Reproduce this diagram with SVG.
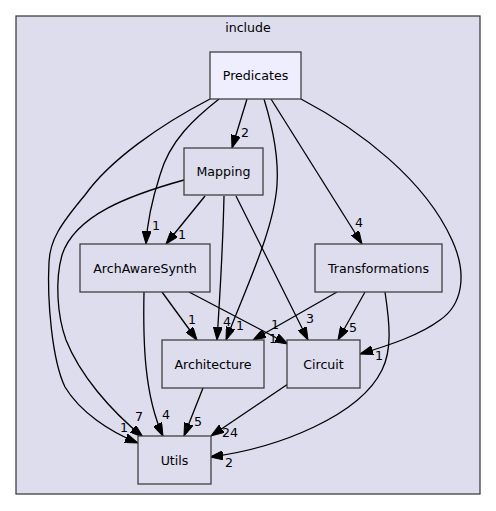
<svg xmlns="http://www.w3.org/2000/svg" width="496" height="511" viewBox="0 0 496 511">
<style>
text{font-family:"DejaVu Sans","Liberation Sans",sans-serif;font-size:12.6px;fill:#000;text-anchor:middle}
.node{stroke:#404040;stroke-width:1.3}
.sub{fill:#ddddee}
.focus{fill:#eeeeff}
.edge{fill:none;stroke:#000;stroke-width:1.3;marker-end:url(#ah)}
</style>
<defs>
<marker id="ah" markerUnits="userSpaceOnUse" viewBox="0 0 13 9" markerWidth="13" markerHeight="9" refX="13" refY="4.5" orient="auto">
<path d="M0,0 L13,4.5 L0,9 z" fill="#000" stroke="#000" stroke-width="1"/>
</marker>
</defs>
<rect x="0" y="0" width="496" height="511" fill="#fff"/>
<g id="cluster_include">
<rect x="16" y="16" width="464" height="478" fill="#ddddee" stroke="#404040" stroke-width="1.3"/>
<text x="248" y="31.5">include</text>
</g>
<g id="connectors">
<path class="edge" d="M247,99 L232,148"/>
<path class="edge" d="M219,99 C195,118 170,140 160,175 C152,200 147,225 146,244"/>
<path class="edge" d="M210,99 C160,125 110,160 85,195 C60,225 50,240 49,262 C47,300 52,360 65,387 C80,412 110,432 138,443"/>
<path class="edge" d="M264,99 C272,125 279,155 277,185 C274,230 245,290 226,340"/>
<path class="edge" d="M271,99 L362,244"/>
<path class="edge" d="M301,99 C360,130 425,180 452,240 C468,275 462,305 440,320 C420,335 390,345 360,354"/>
<path class="edge" d="M205,196 L166,244"/>
<path class="edge" d="M184,180 C130,195 75,215 62,255 C55,280 57,315 66,340 C80,375 110,410 143,437"/>
<path class="edge" d="M224,196 C223,240 220,295 217,340"/>
<path class="edge" d="M236,196 L308,340"/>
<path class="edge" d="M162,292 L197,340"/>
<path class="edge" d="M189,292 L288,344"/>
<path class="edge" d="M144,292 C143,340 144,395 163,436"/>
<path class="edge" d="M337,292 L253,340"/>
<path class="edge" d="M365,292 L338,340"/>
<path class="edge" d="M385,292 C390,325 392,350 382,370 C360,415 280,448 210,457"/>
<path class="edge" d="M203,388 L184,436"/>
<path class="edge" d="M288,384 L211,436"/>
<text x="245" y="137">2</text>
<text x="156" y="230">1</text>
<text x="182" y="239">1</text>
<text x="359" y="227">4</text>
<text x="192" y="324">1</text>
<text x="227" y="326">4</text>
<text x="240" y="330">1</text>
<text x="275" y="329">1</text>
<text x="273" y="343">1</text>
<text x="310" y="323">3</text>
<text x="353" y="332">5</text>
<text x="379" y="360">1</text>
<text x="124" y="432">1</text>
<text x="139" y="421">7</text>
<text x="166" y="419">4</text>
<text x="198" y="426">5</text>
<text x="230" y="437">24</text>
<text x="229" y="467">2</text>
</g>
<g id="node_Predicates">
<rect class="node focus" x="210" y="52" width="91" height="47"/>
<text x="255.5" y="80">Predicates</text>
</g>
<g id="node_Mapping">
<rect class="node sub" x="184" y="148" width="79" height="47"/>
<text x="223.5" y="176">Mapping</text>
</g>
<g id="node_ArchAwareSynth">
<rect class="node sub" x="80" y="244" width="130" height="48"/>
<text x="145" y="272.5">ArchAwareSynth</text>
</g>
<g id="node_Transformations">
<rect class="node sub" x="315" y="244" width="127" height="48"/>
<text x="378.5" y="272.5">Transformations</text>
</g>
<g id="node_Architecture">
<rect class="node sub" x="162" y="340" width="102" height="48"/>
<text x="213" y="368.5">Architecture</text>
</g>
<g id="node_Circuit">
<rect class="node sub" x="287" y="340" width="73" height="48"/>
<text x="323.5" y="368.5">Circuit</text>
</g>
<g id="node_Utils">
<rect class="node sub" x="138" y="436" width="73" height="48"/>
<text x="174.5" y="464.5">Utils</text>
</g>
</svg>
